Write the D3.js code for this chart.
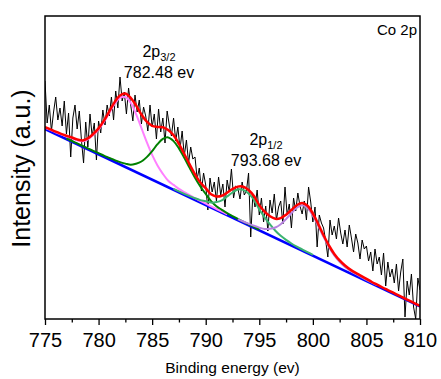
<!DOCTYPE html>
<html>
<head>
<meta charset="utf-8">
<script src="https://cdn.jsdelivr.net/npm/d3@7"></script>
<style>
  body { margin: 0; background: #fff; }
  text { font-family: "Liberation Sans", Arial, sans-serif; fill: #000; }
</style>
</head>
<body>
<script>
// raw Co 2p scan, one reading every 0.2 eV starting at 775 eV
var scanStart = 775, scanStep = 0.2;
var counts = [
  238, 196, 214, 188, 207, 222, 199, 211, 193, 218,
  185, 206, 162, 201, 214, 190, 208, 179, 156, 197,
  172, 205, 183, 196, 159, 198, 186, 209, 194, 214,
  203, 222, 199, 228, 211, 242, 218, 227, 205, 231,
  214, 198, 224, 207, 219, 195, 212, 203, 188, 214,
  192, 205, 180, 210, 187, 201, 176, 208, 194, 183,
  201, 178, 192, 170, 188, 163, 179, 156, 172, 160,
  162, 140, 151, 128, 146, 134, 109, 141, 127, 137,
  118, 142, 124, 135, 112, 139, 127, 150, 121, 133,
  131, 120, 137, 124, 128, 146, 82, 125, 112, 129,
  104, 121, 97, 113, 88, 119, 106, 125, 99, 112,
  118, 95, 132, 104, 115, 91, 121, 108, 126, 113,
  105, 118, 99, 132, 117, 97, 112, 72, 104, 96,
  91, 78, 62, 99, 84, 93, 80, 101, 86, 75,
  89, 72, 94, 81, 67, 85, 76, 60, 79, 70,
  73, 58, 67, 48, 70, 55, 62, 44, 66, 33,
  57, 42, 50, 36, 55, 28, 47, 60, 2, 38,
  24, 45, 12, 0, 41, 29
];

// fitted curves, sampled every 0.5 eV
var fitStep = 0.5;

var envelopeStart = 775;
var envelope = [
  191.9, 189.6, 187.3, 185.2, 183.3, 181.5, 179.6, 178.6, 180.6, 185.0,
  190.6, 198.3, 207.7, 216.9, 223.6, 225.4, 221.2, 213.6, 204.5, 197.3,
  193.2, 192.1, 191.7, 188.9, 183.7, 175.1, 165.0, 154.6, 144.7, 136.5,
  130.8, 124.7, 122.5, 123.2, 126.3, 130.0, 132.4, 132.3, 129.0, 122.9,
  113.9, 107.3, 102.7, 100.2, 100.9, 104.3, 109.1, 113.8, 116.0, 113.2,
  105.5, 94.9, 83.8, 73.5, 65.1, 58.6, 53.5, 49.4, 46.1, 43.2,
  40.2, 37.0, 34.3, 31.5, 28.9, 26.3, 23.6, 21.0, 18.4, 15.7, 13.1
];

// 2p3/2 main peak (782.48 eV)
var p32Start = 775;
var p32 = [
  191.4, 189.1, 186.7, 184.6, 182.6, 180.8, 178.8, 177.8, 179.7, 184.0,
  189.5, 197.1, 206.2, 215.1, 221.2, 222.0, 216.2, 204.9, 191.0, 176.9,
  164.1, 153.6, 145.2, 138.3, 134.1, 130.1, 126.8, 123.8, 120.8, 118.1,
  115.4, 112.6, 110.0, 107.4, 104.7
];

// 2p3/2 satellite
var sat32Start = 777;
var sat32 = [
  180.6, 178.0, 175.6, 173.1,
  170.6, 168.2, 165.8, 163.3, 161.1, 158.9, 156.9, 155.4, 154.2, 155.3,
  157.5, 161.9, 167.9, 174.8, 180.1, 181.6, 177.9, 170.6, 161.2, 151.1,
  141.2, 132.5, 125.0, 117.9, 112.7, 109.2, 105.8, 102.9, 100.1, 97.3,
  94.7, 92.1, 89.4
];

// 2p1/2 main peak (793.68 eV)
var p12Start = 787;
var p12 = [
  130.1, 127.6, 125.2, 122.9, 120.7, 118.9, 117.8, 116.4, 116.9, 118.6,
  122.5, 126.5, 129.4, 129.1, 125.6, 119.3, 109.6, 101.7, 94.6, 88.3,
  83.2, 79.1, 75.5, 72.4, 69.6, 66.8, 64.2
];

// 2p1/2 satellite
var sat12Start = 793;
var sat12 = [
  99.9, 97.5, 95.3, 93.2, 91.4, 90.1, 90.2, 91.5, 94.8, 99.9,
  105.8, 111.2, 113.7, 111.1, 103.6, 93.2, 82.1, 72.0, 63.6, 57.2,
  52.1, 48.3, 45.0, 42.1, 39.2, 36.5, 33.9
];

// linear background
var bgEnergy = [775, 810];
var bgValue = [190, 12.6];

var majorTicks = [775, 780, 785, 790, 795, 800, 805, 810];
var minorTicks = [777.5, 782.5, 787.5, 792.5, 797.5, 802.5, 807.5];

var width = 441, height = 379;
var margin = {top: 16, right: 21, bottom: 60, left: 45};

var svg = d3.select("body").append("svg")
    .attr("width", width)
    .attr("height", height);

var x = d3.scaleLinear()
    .domain([775, 810])
    .range([margin.left, width - margin.right]);

var y = d3.scaleLinear()
    .domain([0, 303])
    .range([height - margin.bottom, margin.top]);

// turn a start + step + values list into points
function toPoints(start, step, vals) {
    return vals.map(function (v, i) { return [start + i * step, v]; });
}

svg.append("clipPath").attr("id", "plot")
    .append("rect")
    .attr("x", x(775)).attr("y", y(303))
    .attr("width", x(810) - x(775))
    .attr("height", y(0) - y(303));

var plot = svg.append("g").attr("clip-path", "url(#plot)");

var raw = d3.line()
    .x(function (d) { return x(d[0]); })
    .y(function (d) { return y(d[1]); });

var smooth = d3.line()
    .x(function (d) { return x(d[0]); })
    .y(function (d) { return y(d[1]); })
    .curve(d3.curveCatmullRom.alpha(0.5));

plot.append("path")
    .attr("d", raw(toPoints(scanStart, scanStep, counts)))
    .attr("fill", "none")
    .attr("stroke", "#000")
    .attr("stroke-width", 1);

plot.append("path")
    .attr("d", raw(bgEnergy.map(function (e, i) { return [e, bgValue[i]]; })))
    .attr("fill", "none")
    .attr("stroke", "#0000ff")
    .attr("stroke-width", 2.5);

var comps = [
    {start: p32Start, vals: p32, color: "#ff80ff"},
    {start: sat32Start, vals: sat32, color: "#008000"},
    {start: p12Start, vals: p12, color: "#3cb371"},
    {start: sat12Start, vals: sat12, color: "#b784e0"}
];

comps.forEach(function (c) {
    plot.append("path")
        .attr("d", smooth(toPoints(c.start, fitStep, c.vals)))
        .attr("fill", "none")
        .attr("stroke", c.color)
        .attr("stroke-width", 2);
});

plot.append("path")
    .attr("d", smooth(toPoints(envelopeStart, fitStep, envelope)))
    .attr("fill", "none")
    .attr("stroke", "#ff0000")
    .attr("stroke-width", 2.5);

// frame
svg.append("rect")
    .attr("x", x(775)).attr("y", y(303))
    .attr("width", x(810) - x(775))
    .attr("height", y(0) - y(303))
    .attr("fill", "none")
    .attr("stroke", "#000")
    .attr("stroke-width", 1.5);

// x axis
var xAxis = svg.append("g")
    .attr("transform", "translate(0," + y(0) + ")")
    .call(d3.axisBottom(x).tickValues(majorTicks).tickSize(6).tickPadding(8)
        .tickFormat(d3.format("d")));
xAxis.select(".domain").remove();
xAxis.selectAll("line").attr("stroke", "#000").attr("stroke-width", 1.3);
xAxis.selectAll("text").style("font-size", "20px")
    .style("font-family", "'Liberation Sans', Arial, sans-serif");

var xMinor = svg.append("g")
    .attr("transform", "translate(0," + y(0) + ")")
    .call(d3.axisBottom(x).tickValues(minorTicks).tickSize(3.5).tickFormat(""));
xMinor.select(".domain").remove();
xMinor.selectAll("line").attr("stroke", "#000").attr("stroke-width", 1.3);

// axis titles
svg.append("text")
    .attr("x", (x(775) + x(810)) / 2)
    .attr("y", 372.5)
    .attr("text-anchor", "middle")
    .attr("font-size", 15.5)
    .text("Binding energy (ev)");

svg.append("text")
    .attr("transform", "translate(30," + ((y(0) + y(303)) / 2 + 1) + ") rotate(-90)")
    .attr("text-anchor", "middle")
    .attr("font-size", 25)
    .text("Intensity (a.u.)");

// labels
svg.append("text")
    .attr("x", 417).attr("y", 35)
    .attr("text-anchor", "end")
    .attr("font-size", 15)
    .text("Co 2p");

function peakLabel(cx, y1, sub, pos) {
    var t = svg.append("text")
        .attr("x", cx).attr("y", y1)
        .attr("text-anchor", "middle")
        .attr("font-size", 16);
    t.append("tspan").text("2p");
    t.append("tspan").attr("font-size", 11).attr("dy", 4).text(sub);
    svg.append("text")
        .attr("x", cx).attr("y", y1 + 21)
        .attr("text-anchor", "middle")
        .attr("font-size", 16)
        .text(pos + " ev");
}

peakLabel(159, 57, "3/2", "782.48");
peakLabel(266, 145, "1/2", "793.68");
</script>
</body>
</html>
